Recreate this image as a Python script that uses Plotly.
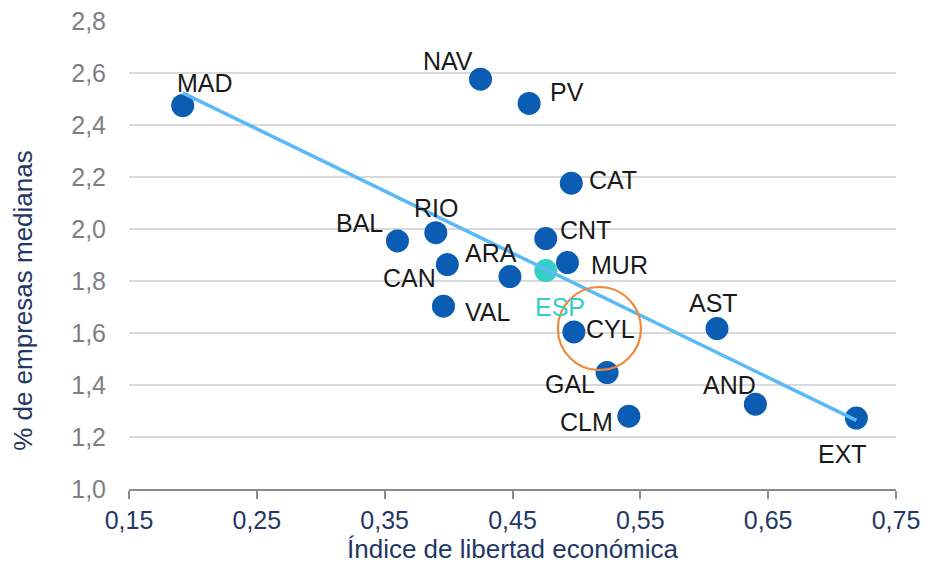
import numpy as np
import plotly.graph_objects as go

# ---- data ----
regions = ["MAD", "NAV", "PV", "CAT", "CNT", "BAL", "RIO", "CAN", "ARA",
           "MUR", "VAL", "CYL", "AST", "GAL", "AND", "CLM", "EXT"]
libertad = [0.192, 0.425, 0.463, 0.496, 0.476, 0.360, 0.390, 0.399, 0.448,
            0.493, 0.396, 0.498, 0.610, 0.524, 0.640, 0.541, 0.719]
empresas = [2.475, 2.576, 2.483, 2.176, 1.963, 1.954, 1.986, 1.863, 1.817,
            1.871, 1.703, 1.604, 1.617, 1.448, 1.326, 1.280, 1.273]
esp_label = "ESP"
esp_x = [0.476]
esp_y = [1.840]
x_ticks = [0.15, 0.25, 0.35, 0.45, 0.55, 0.65, 0.75]
y_ticks = [1.0, 1.2, 1.4, 1.6, 1.8, 2.0, 2.2, 2.4, 2.6, 2.8]
x_title = "Índice de libertad económica"
y_title = "% de empresas medianas"

# ---- label placement (pixel offsets, style only) ----
label_shift = {
    "MAD": (22, 23), "NAV": (-33, 18), "PV": (38, 11), "CAT": (42, 3),
    "CNT": (40, 9), "BAL": (-38, 18), "RIO": (0, 25), "CAN": (-38, -13),
    "ARA": (-19, 24), "MUR": (52, -2), "VAL": (44, -6), "CYL": (37, 3),
    "GAL": (-37, -11), "CLM": (-42, -6), "AST": (-4, 26), "AND": (-26, 19),
    "EXT": (-14, -36),
}
esp_shift = (14, -36)

DOT = "#0B5DB4"
TEAL = "#36CEC8"
LINE = "#5BB9F6"
NAVY = "#1F3864"
FONT = "Liberation Sans, Arial, sans-serif"

# trend line (least squares over regions)
slope, intercept = np.polyfit(libertad, empresas, 1)
tx = np.array([min(libertad), max(libertad)])
ty = slope * tx + intercept

fig = go.Figure()
fig.add_trace(go.Scatter(x=libertad, y=empresas, mode="markers",
                         marker=dict(size=23, color=DOT), hoverinfo="skip",
                         showlegend=False, text=regions))
fig.add_trace(go.Scatter(x=esp_x, y=esp_y, mode="markers",
                         marker=dict(size=23, color=TEAL), showlegend=False))
fig.add_trace(go.Scatter(x=tx, y=ty, mode="lines",
                         line=dict(color=LINE, width=3.5), showlegend=False))

for r, xv, yv in zip(regions, libertad, empresas):
    dx, dy = label_shift[r]
    fig.add_annotation(x=xv, y=yv, text=r, showarrow=False,
                       xshift=dx, yshift=dy,
                       font=dict(family=FONT, size=25, color="#1A1A1A"))
fig.add_annotation(x=esp_x[0], y=esp_y[0], text=esp_label, showarrow=False,
                   xshift=esp_shift[0], yshift=esp_shift[1],
                   font=dict(family=FONT, size=25, color=TEAL))

# y-axis title (placed slightly below centre, as in the reference)
fig.add_annotation(xref="paper", yref="paper", x=0, y=0.402,
                   xanchor="center", yanchor="middle",
                   xshift=-106, text=y_title, textangle=-90,
                   showarrow=False,
                   font=dict(family=FONT, size=26, color=NAVY))

# highlight circle around CYL
cx, cy, rx, ry = 0.518, 1.617, 0.0325, 0.160
fig.add_shape(type="circle", xref="x", yref="y",
              x0=cx - rx, x1=cx + rx, y0=cy - ry, y1=cy + ry,
              line=dict(color="#F0883A", width=2.2))

fig.update_layout(
    width=928, height=568,
    margin=dict(l=129, r=32, t=21, b=79, autoexpand=False),
    paper_bgcolor="white", plot_bgcolor="white",
    separators=",.",
    font=dict(family=FONT),
    xaxis=dict(range=[0.15, 0.75], tickvals=x_ticks, tickformat=".2f",
               automargin=False,
               showgrid=False, zeroline=False,
               showline=True, linecolor="#8C8C8C", linewidth=2,
               ticks="outside", ticklen=8, tickwidth=2, tickcolor="#8C8C8C",
               tickfont=dict(family=FONT, size=25, color=NAVY),
               title=dict(text=x_title, standoff=5,
                          font=dict(family=FONT, size=26, color=NAVY))),
    yaxis=dict(range=[1.0, 2.8], tickvals=y_ticks, tickformat=".1f",
               automargin=False,
               showgrid=True, gridcolor="#D9D9D9", gridwidth=2,
               zeroline=False, showline=False, ticks="",
               ticklabelstandoff=22,
               tickfont=dict(family=FONT, size=25, color="#7F7F7F")),
)

fig.write_html("out.html", config={"displayModeBar": False},
               post_script="document.body.style.margin='0';")
